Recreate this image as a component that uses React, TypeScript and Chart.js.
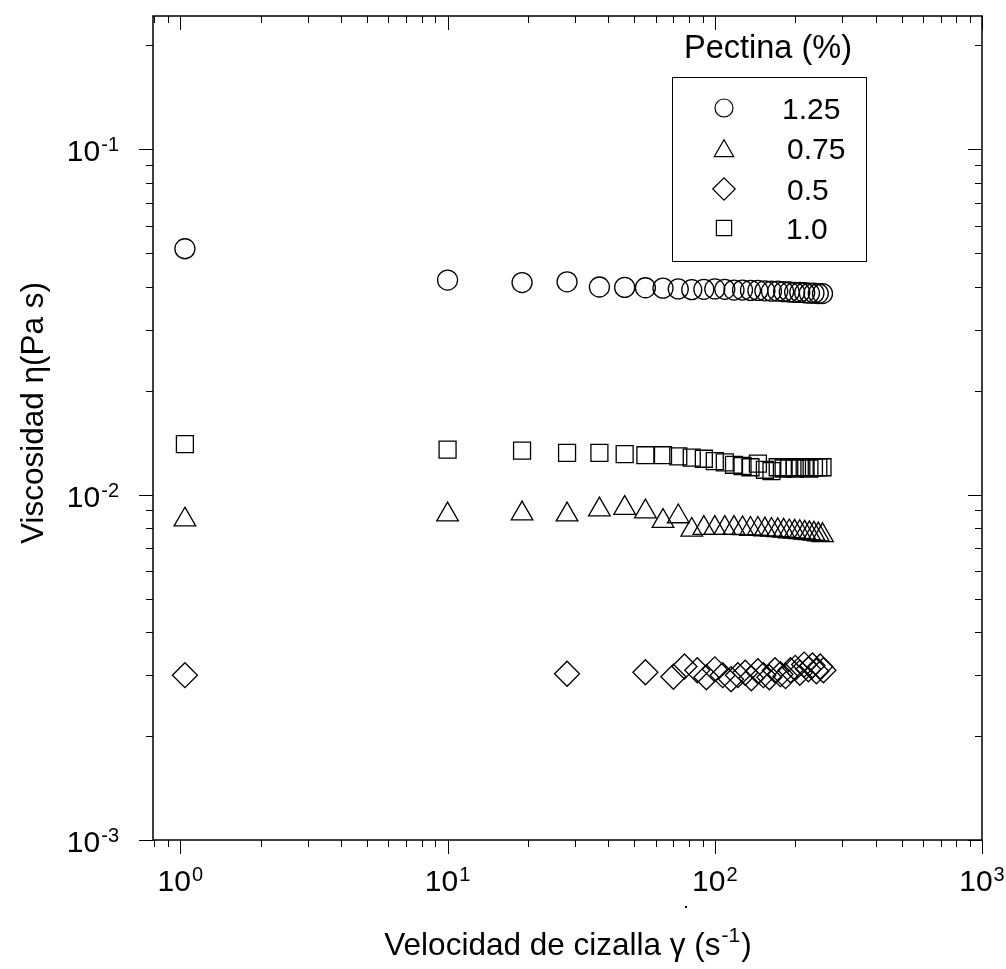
import React, { useEffect, useRef } from "react";
import { Chart, registerables } from "chart.js";

Chart.register(...registerables);

const FONT = '"Liberation Sans", Arial, Helvetica, sans-serif';

// ---- texts ----
const seriesLabels = ["1.25", "0.75", "0.5", "1.0"];
const legendTitle = "Pectina (%)";
const xTitleMain = "Velocidad de cizalla γ (s";
const xTitleSup = "-1";
const xTitleEnd = ")";
const yTitle = "Viscosidad η(Pa s)";

// ---- data ----
const shearRate = [1.04, 10, 19, 28, 37, 46, 55, 64, 73, 82, 91, 100, 109, 118, 127, 136, 145, 154, 163, 172, 181, 190, 199, 208, 217, 226, 235, 244, 253];
const viscosity125 = [0.0515, 0.0418, 0.0411, 0.0413, 0.0399, 0.0398, 0.0397, 0.0396, 0.0394, 0.0392, 0.0393, 0.0394, 0.0393, 0.0391, 0.0391, 0.039, 0.039, 0.0389, 0.0388, 0.0388, 0.0387, 0.0386, 0.0385, 0.0385, 0.0384, 0.0383, 0.0383, 0.0382, 0.0382];
const viscosity075 = [0.00846, 0.00875, 0.00881, 0.00875, 0.00905, 0.00914, 0.00893, 0.00838, 0.00864, 0.0079, 0.008, 0.008, 0.008, 0.008, 0.00798, 0.00795, 0.00795, 0.00792, 0.0079, 0.00788, 0.00785, 0.00782, 0.0078, 0.00778, 0.00775, 0.00772, 0.0077, 0.00766, 0.00762];
const viscosity10 = [0.014, 0.0135, 0.0134, 0.0132, 0.0132, 0.0131, 0.013, 0.013, 0.0129, 0.0128, 0.0127, 0.0125, 0.0124, 0.0122, 0.0121, 0.012, 0.0123, 0.0118, 0.0117, 0.012, 0.0119, 0.012, 0.0119, 0.012, 0.012, 0.0119, 0.012, 0.012, 0.012];
const shearRate05 = [1.04, 28, 55, 70, 77, 86, 93, 100, 107, 115, 122, 130, 137, 145, 152, 160, 168, 176, 184, 192, 200, 208, 216, 224, 232, 240, 248, 255];
const viscosity05 = [0.003, 0.00303, 0.00306, 0.00297, 0.00318, 0.0031, 0.00296, 0.00312, 0.003, 0.00292, 0.003, 0.00305, 0.00294, 0.00308, 0.003, 0.00296, 0.0031, 0.00302, 0.00298, 0.0031, 0.00315, 0.00305, 0.00322, 0.00312, 0.0032, 0.00308, 0.00318, 0.0031];

// ---- ticks ----
const xMajorTicks = [1, 10, 100, 1000];
const xTickExponents = ["0", "1", "2", "3"];
const xMinorTicks = [0.8, 0.9, 2, 3, 4, 5, 6, 7, 8, 9, 20, 30, 40, 50, 60, 70, 80, 90, 200, 300, 400, 500, 600, 700, 800, 900];
const yMajorTicks = [0.001, 0.01, 0.1];
const yTickExponents = ["-3", "-2", "-1"];
const yMinorTicks = [0.002, 0.003, 0.004, 0.005, 0.006, 0.007, 0.008, 0.009, 0.02, 0.03, 0.04, 0.05, 0.06, 0.07, 0.08, 0.09, 0.2];

const pointStyles = ["circle", "triangle", "rectRot", "rect"];
const pointRadii = [10, 12.5, 12.5, 12];

function drawMarker(ctx: CanvasRenderingContext2D, style: string, x: number, y: number, r: number) {
  ctx.beginPath();
  if (style === "circle") {
    ctx.arc(x, y, r, 0, Math.PI * 2);
  } else if (style === "triangle") {
    let rad = 0;
    ctx.moveTo(x + Math.sin(rad) * r, y - Math.cos(rad) * r);
    rad += (2 * Math.PI) / 3;
    ctx.lineTo(x + Math.sin(rad) * r, y - Math.cos(rad) * r);
    rad += (2 * Math.PI) / 3;
    ctx.lineTo(x + Math.sin(rad) * r, y - Math.cos(rad) * r);
  } else if (style === "rectRot") {
    ctx.moveTo(x - r, y);
    ctx.lineTo(x, y - r);
    ctx.lineTo(x + r, y);
    ctx.lineTo(x, y + r);
  } else {
    const s = Math.SQRT1_2 * r;
    ctx.rect(x - s, y - s, 2 * s, 2 * s);
  }
  ctx.closePath();
  ctx.stroke();
}

const TICK_FONT = 30;
const SUP_FONT = 20;

function powWidth(ctx: CanvasRenderingContext2D, base: string, exp: string) {
  ctx.font = `${TICK_FONT}px ${FONT}`;
  const w1 = ctx.measureText(base).width;
  ctx.font = `${SUP_FONT}px ${FONT}`;
  const w2 = ctx.measureText(exp).width;
  return w1 + w2 + 1;
}

function drawPow(ctx: CanvasRenderingContext2D, base: string, exp: string, x: number, baseline: number) {
  ctx.textAlign = "left";
  ctx.textBaseline = "alphabetic";
  ctx.font = `${TICK_FONT}px ${FONT}`;
  ctx.fillText(base, x, baseline);
  const w1 = ctx.measureText(base).width;
  ctx.font = `${SUP_FONT}px ${FONT}`;
  ctx.fillText(exp, x + w1 + 1, baseline - 10);
}

const framePlugin = {
  id: "frameAndLabels",
  afterDatasetsDraw(chart: any) {
    const { ctx, chartArea: a } = chart;
    const xs = chart.scales.x;
    const ys = chart.scales.y;
    ctx.save();
    ctx.strokeStyle = "#000";
    ctx.fillStyle = "#000";

    const line = (x1: number, y1: number, x2: number, y2: number) => {
      ctx.beginPath();
      ctx.moveTo(x1, y1);
      ctx.lineTo(x2, y2);
      ctx.stroke();
    };

    // ticks
    ctx.lineWidth = 1;
    const MAJ = 14;
    const MIN = 7;
    const xTick = (v: number, len: number) => {
      const px = Math.round(xs.getPixelForValue(v)) + 0.5;
      if (px < a.left - 1 || px > a.right + 1) return;
      line(px, a.bottom, px, a.bottom + len);
      line(px, a.top, px, a.top + len);
    };
    const yTick = (v: number, len: number) => {
      const py = Math.round(ys.getPixelForValue(v)) + 0.5;
      if (py < a.top - 1 || py > a.bottom + 1) return;
      line(a.left - len, py, a.left, py);
      line(a.right - len, py, a.right, py);
    };
    xMinorTicks.forEach((v) => xTick(v, MIN));
    xMajorTicks.forEach((v) => xTick(v, MAJ));
    yMinorTicks.forEach((v) => yTick(v, MIN));
    yMajorTicks.forEach((v) => yTick(v, MAJ));

    // frame
    ctx.lineWidth = 1.5;
    ctx.strokeRect(a.left, a.top, a.right - a.left, a.bottom - a.top);

    // x tick labels
    xMajorTicks.forEach((v, i) => {
      const px = xs.getPixelForValue(v);
      const w = powWidth(ctx, "10", xTickExponents[i]);
      drawPow(ctx, "10", xTickExponents[i], px - w / 2, a.bottom + 51);
    });
    // stray dot below the 10^2 label, as in the source figure
    ctx.fillRect(685, 906, 2, 2);

    // y tick labels
    yMajorTicks.forEach((v, i) => {
      const py = ys.getPixelForValue(v);
      const w = powWidth(ctx, "10", yTickExponents[i]);
      drawPow(ctx, "10", yTickExponents[i], a.left - 34 - w, py + 12);
    });

    // x title
    const TF = 31.5;
    ctx.font = `${TF}px ${FONT}`;
    const wm = ctx.measureText(xTitleMain).width;
    const we = ctx.measureText(xTitleEnd).width;
    ctx.font = `21px ${FONT}`;
    const ws = ctx.measureText(xTitleSup).width;
    const total = wm + ws + we + 2;
    const cx = 568;
    let sx = cx - total / 2;
    const by = 955;
    ctx.textAlign = "left";
    ctx.textBaseline = "alphabetic";
    ctx.font = `${TF}px ${FONT}`;
    ctx.fillText(xTitleMain, sx, by);
    sx += wm + 1;
    ctx.font = `21px ${FONT}`;
    ctx.fillText(xTitleSup, sx, by - 13);
    sx += ws + 1;
    ctx.font = `${TF}px ${FONT}`;
    ctx.fillText(xTitleEnd, sx, by);

    // y title
    ctx.save();
    ctx.translate(43, 413);
    ctx.rotate(-Math.PI / 2);
    ctx.textAlign = "center";
    ctx.textBaseline = "alphabetic";
    ctx.font = `${TF}px ${FONT}`;
    ctx.fillText(yTitle, 0, 0);
    ctx.restore();

    // legend
    ctx.textAlign = "center";
    ctx.textBaseline = "alphabetic";
    ctx.font = `32.5px ${FONT}`;
    ctx.fillText(legendTitle, 768, 58);
    ctx.lineWidth = 1;
    ctx.strokeRect(672.5, 77.5, 194, 184);
    const rowsY = [108, 148, 189, 228];
    const textX = [782, 787, 787, 786];
    seriesLabels.forEach((lab, i) => {
      ctx.lineWidth = 1.2;
      drawMarker(ctx, pointStyles[i], 724, rowsY[i] + (pointStyles[i] === "triangle" ? 3 : 0), pointRadii[i] * 0.9);
      ctx.textAlign = "left";
      ctx.font = `30px ${FONT}`;
      ctx.fillText(lab, textX[i], rowsY[i] + 11);
    });

    ctx.restore();
  },
};

export default function App() {
  const ref = useRef<HTMLCanvasElement>(null);
  useEffect(() => {
    const mk = (xsArr: number[], ysArr: number[], i: number) => ({
      label: seriesLabels[i],
      data: xsArr.map((x, k) => ({ x, y: ysArr[k] })),
      pointStyle: pointStyles[i] as any,
      pointRadius: pointRadii[i],
      pointBorderWidth: 1.3,
      borderColor: "#000",
      backgroundColor: "rgba(0,0,0,0)",
      showLine: false,
      clip: false as any,
    });
    const chart = new Chart(ref.current as HTMLCanvasElement, {
      type: "scatter",
      data: {
        datasets: [
          mk(shearRate, viscosity125, 0),
          mk(shearRate, viscosity075, 1),
          mk(shearRate05, viscosity05, 2),
          mk(shearRate, viscosity10, 3),
        ],
      },
      options: {
        animation: false,
        responsive: false,
        events: [],
        layout: { autoPadding: false, padding: { left: 153, right: 24, top: 16, bottom: 129 } },
        plugins: { legend: { display: false }, tooltip: { enabled: false } },
        scales: {
          x: { type: "logarithmic", min: 0.79, max: 1000, display: false },
          y: { type: "logarithmic", min: 0.001, max: 0.243, display: false },
        },
      },
      plugins: [framePlugin],
    });
    return () => chart.destroy();
  }, []);
  return (
    <div style={{ position: "fixed", left: 0, top: 0, width: 1006, height: 969, overflow: "hidden", background: "#fff" }}>
      <canvas ref={ref} width={1006} height={969} style={{ display: "block" }} />
    </div>
  );
}
